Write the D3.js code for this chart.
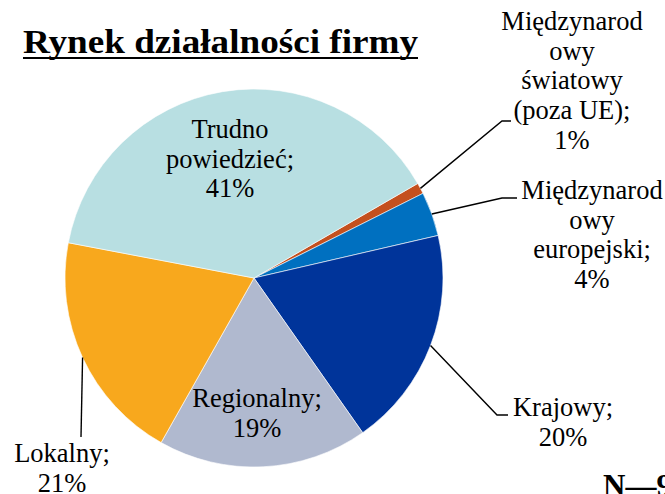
<!DOCTYPE html>
<html>
<head>
<meta charset="utf-8">
<script src="https://cdn.jsdelivr.net/npm/d3@7"></script>
<style>
  html, body { margin: 0; padding: 0; background: #ffffff; }
  svg { display: block; }
</style>
</head>
<body>
<svg id="chart" width="665" height="494"></svg>
<script>
// ---- data ----
const categories = [
  "Międzynarodowy światowy (poza UE)",
  "Międzynarodowy europejski",
  "Krajowy",
  "Regionalny",
  "Lokalny",
  "Trudno powiedzieć"
];
const values = [1, 4, 20, 19, 21, 41];
const labelLines = [
  ["Międzynarod", "owy", "światowy", "(poza UE);", "1%"],
  ["Międzynarod", "owy", "europejski;", "4%"],
  ["Krajowy;", "20%"],
  ["Regionalny;", "19%"],
  ["Lokalny;", "21%"],
  ["Trudno", "powiedzieć;", "41%"]
];
const colors = ["#C4501E", "#0070C0", "#00349A", "#B0B9CF", "#F8A81D", "#B8DFE2"];
const titleText = "Rynek działalności firmy";
const noteText = "N—9";

// ---- layout ----
const FONT = "'Liberation Serif', 'Times New Roman', Times, serif";
const svg = d3.select("#chart");
const cx = 254, cy = 278, R = 189;
const fontSize = 26.5, lineH = 29.7;

// label layout (text anchor x, first baseline y, leader elbow/end)
const labelLayout = [
  { x: 572, y: 30,  elbow: [502, 121], end: [511, 121] },
  { x: 592, y: 199, elbow: [502, 198], end: [517, 198] },
  { x: 563, y: 416, elbow: [497, 415], end: [508, 415] },
  { x: 257, y: 407 },
  { x: 62,  y: 462, elbow: [81, 437] },
  { x: 230, y: 138 }
];

const pie = d3.pie().sort(null).value(d => d)
  .startAngle(Math.PI / 3).endAngle(Math.PI / 3 + 2 * Math.PI);
const arcs = pie(values);
const arc = d3.arc().innerRadius(0).outerRadius(R);

const g = svg.append("g").attr("transform", `translate(${cx},${cy})`);
g.selectAll("path.slice").data(arcs).enter().append("path")
  .attr("class", "slice")
  .attr("d", arc)
  .attr("fill", (d, i) => colors[i])
  .attr("stroke", "#ffffff")
  .attr("stroke-width", 0.6);

// leader lines
arcs.forEach((d, i) => {
  const L = labelLayout[i];
  if (!L.elbow) return;
  const mid = (d.startAngle + d.endAngle) / 2;
  const px = cx + R * Math.sin(mid), py = cy - R * Math.cos(mid);
  const pts = [[px, py], L.elbow];
  if (L.end) pts.push(L.end);
  svg.append("path")
    .attr("d", d3.line()(pts))
    .attr("fill", "none")
    .attr("stroke", "#000")
    .attr("stroke-width", 1.4);
});

// labels
labelLines.forEach((lines, i) => {
  const L = labelLayout[i];
  const t = svg.append("text")
    .attr("text-anchor", "middle")
    .attr("font-family", FONT)
    .attr("font-size", fontSize)
    .attr("fill", "#000");
  lines.forEach((ln, j) => {
    t.append("tspan").attr("x", L.x).attr("y", L.y + j * lineH).text(ln);
  });
});

// title
svg.append("text")
  .attr("x", 23).attr("y", 53)
  .attr("font-family", FONT)
  .attr("font-size", 33)
  .attr("font-weight", "bold")
  .attr("fill", "#000")
  .attr("textLength", 395)
  .attr("lengthAdjust", "spacingAndGlyphs")
  .text(titleText);
svg.append("line")
  .attr("x1", 23).attr("x2", 418).attr("y1", 58).attr("y2", 58)
  .attr("stroke", "#000").attr("stroke-width", 2);

// note (cut off at bottom-right, as in the reference)
svg.append("text")
  .attr("x", 603).attr("y", 496)
  .attr("font-family", FONT)
  .attr("font-size", 31)
  .attr("font-weight", "bold")
  .attr("fill", "#000")
  .text(noteText);
</script>
</body>
</html>
